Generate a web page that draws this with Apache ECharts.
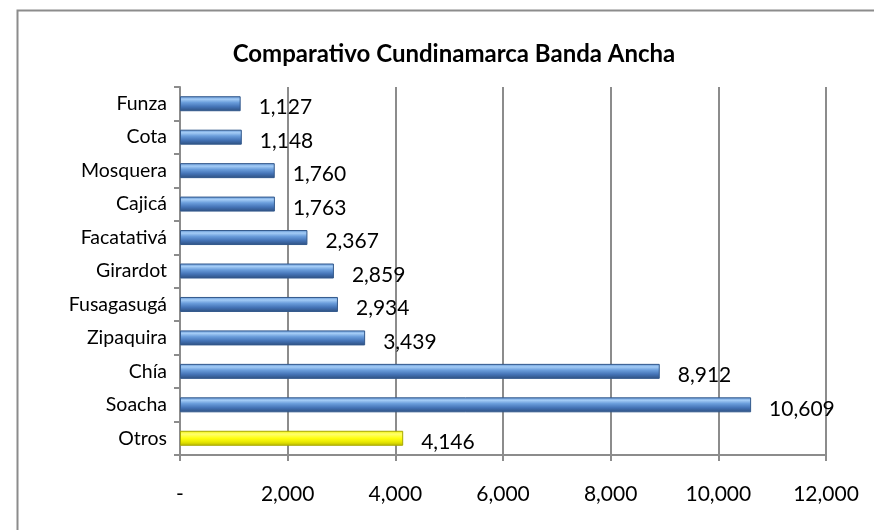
<!DOCTYPE html>
<html>
<head>
<meta charset="utf-8">
<script src="https://cdn.jsdelivr.net/npm/echarts@6/dist/echarts.min.js"></script>
<style>
  html, body { margin: 0; padding: 0; background: #fff; }
  #chart { width: 874px; height: 530px; }
</style>
</head>
<body>
<div id="chart"></div>
<script>
// data (top to bottom)
const categories = ["Funza", "Cota", "Mosquera", "Cajicá", "Facatativá", "Girardot",
  "Fusagasugá", "Zipaquira", "Chía", "Soacha", "Otros"];
const values = [1127, 1148, 1760, 1763, 2367, 2859, 2934, 3439, 8912, 10609, 4146];
const xTicks = [0, 2000, 4000, 6000, 8000, 10000, 12000];

const blue = new echarts.graphic.LinearGradient(0, 0, 0, 1, [
  { offset: 0, color: "#5f92d2" },
  { offset: 0.2, color: "#a4ccf6" },
  { offset: 0.42, color: "#6a9ddb" },
  { offset: 0.7, color: "#4473b6" },
  { offset: 1, color: "#2d4f7f" }
]);
const yellow = new echarts.graphic.LinearGradient(0, 0, 0, 1, [
  { offset: 0, color: "#f2f200" },
  { offset: 0.22, color: "#ffff70" },
  { offset: 0.5, color: "#ffff10" },
  { offset: 0.75, color: "#e8e800" },
  { offset: 1, color: "#b8b800" }
]);

const fmt = v => v === 0 ? "-" : v.toLocaleString("en-US");

const myChart = echarts.init(document.getElementById("chart"));
const option = {
  animation: false,
  textStyle: { fontFamily: "Lato" },
  title: {
    text: "Comparativo Cundinamarca Banda Ancha",
    left: 449,
    textAlign: "center",
    top: 37,
    textStyle: { fontFamily: "Lato", fontSize: 24, fontWeight: "bold", color: "#000" }
  },
  graphic: [{
    type: "rect",
    shape: { x: 17.5, y: 10.5, width: 900, height: 600 },
    style: { fill: "none", stroke: "#8c8c8c", lineWidth: 2 },
    z: -1
  }],
  grid: { left: 180, right: 48, top: 87, bottom: 75 },
  xAxis: {
    type: "value",
    min: 0,
    max: 12000,
    interval: 2000,
    axisLine: { show: true, lineStyle: { color: "#8c8c8c", width: 2 } },
    axisTick: { show: true, length: 6, lineStyle: { color: "#8c8c8c", width: 2 } },
    splitLine: { show: true, lineStyle: { color: "#8c8c8c", width: 2 } },
    axisLabel: {
      margin: 29,
      fontSize: 21,
      color: "#000",
      formatter: v => xTicks.includes(v) ? fmt(v) : ""
    }
  },
  yAxis: {
    type: "category",
    inverse: true,
    data: categories,
    axisLine: { show: true, lineStyle: { color: "#8c8c8c", width: 2 } },
    axisTick: { show: true, length: 6, lineStyle: { color: "#8c8c8c", width: 2 } },
    axisLabel: { margin: 13, fontSize: 19.5, color: "#000" }
  },
  series: [{
    type: "bar",
    barWidth: 15,
    data: values.map((v, i) => ({
      value: v,
      itemStyle: i === values.length - 1
        ? { color: yellow, borderColor: "#a8a800", borderWidth: 1 }
        : { color: blue, borderColor: "#33598c", borderWidth: 1 }
    })),
    label: {
      show: true,
      position: "right",
      distance: 18,
      offset: [0, 4],
      fontSize: 21,
      color: "#000",
      formatter: p => fmt(p.value)
    }
  }]
};
option && myChart.setOption(option);
</script>
</body>
</html>
